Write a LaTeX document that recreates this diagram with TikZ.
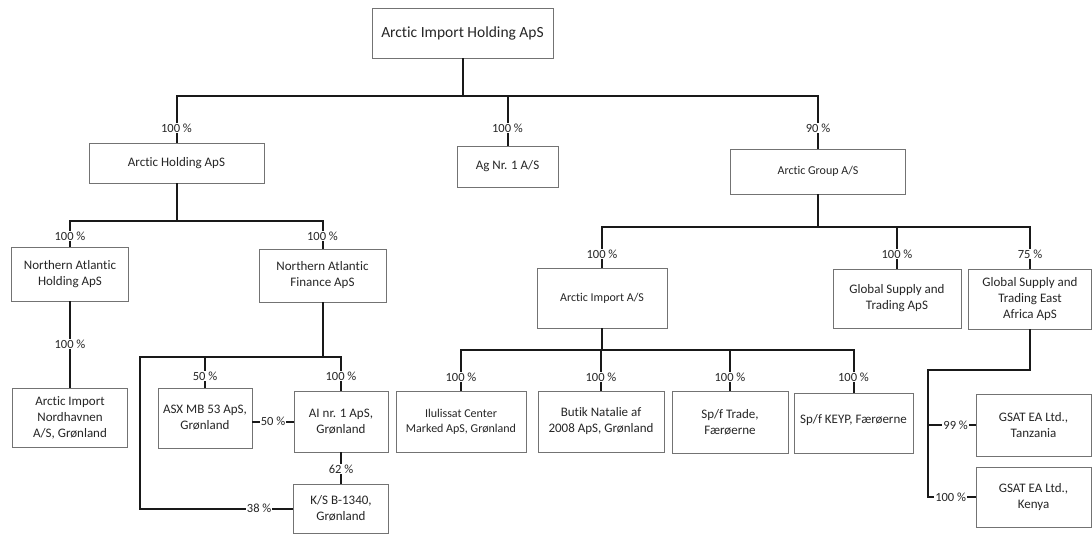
\documentclass[tikz,border=0pt]{standalone}
\usepackage{fontspec}
\setmainfont{Carlito}[Ligatures=NoCommon]
\begin{document}
\begin{tikzpicture}[x=1pt,y=-1pt,
  box/.style={draw=black!55, line width=0.7pt, inner sep=2pt, align=center, text=black!85, font=\fontsize{13}{16}\selectfont},
  smallbox/.style={box, font=\fontsize{12}{15}\selectfont},
  conn/.style={line width=2pt, draw=black!90},
  pct/.style={fill=white, inner sep=1pt, text=black!85, font=\fontsize{12.5}{14}\selectfont}]
\fill[white] (0,0) rectangle (1092,537);
\useasboundingbox (0,0) rectangle (1092,537);
% boxes
\node[box,font=\fontsize{15.5}{18}\selectfont,minimum width=181pt,minimum height=50pt] (top) at (462.5,33) {Arctic Import Holding ApS};
\node[box,minimum width=175pt,minimum height=40pt] (ah) at (176.5,163) {Arctic Holding ApS};
\node[box,minimum width=101pt,minimum height=41pt] (ag) at (507.5,166.5) {Ag Nr. 1 A/S};
\node[smallbox,minimum width=175pt,minimum height=45pt] (grp) at (818,171.5) {Arctic Group A/S};
\node[box,minimum width=117pt,minimum height=54pt] (nah) at (70,274) {Northern Atlantic\\Holding ApS};
\node[box,minimum width=127pt,minimum height=53pt] (naf) at (322.5,275.5) {Northern Atlantic\\Finance ApS};
\node[box,minimum width=115pt,minimum height=59pt] (ain) at (70,417.5) {Arctic Import\\Nordhavnen\\A/S, Grønland};
\node[box,minimum width=94pt,minimum height=60pt] (asx) at (205,418) {ASX MB 53 ApS,\\Grønland};
\node[box,minimum width=94pt,minimum height=61pt] (ai1) at (341,421.5) {AI nr. 1 ApS,\\Grønland};
\node[box,minimum width=95pt,minimum height=49pt] (ks) at (341,508.5) {K/S B-1340,\\Grønland};
\node[smallbox,minimum width=130pt,minimum height=60pt] (aimp) at (602,298) {Arctic Import A/S};
\node[smallbox,minimum width=130pt,minimum height=61pt] (ilu) at (461,421.5) {Ilulissat Center\\Marked ApS, Grønland};
\node[box,minimum width=126pt,minimum height=61pt] (but) at (601,421.5) {Butik Natalie af\\2008 ApS, Grønland};
\node[box,minimum width=116pt,minimum height=62pt] (trade) at (730,422) {Sp/f Trade,\\Færøerne};
\node[box,minimum width=119pt,minimum height=60pt] (keyp) at (853.5,423) {\raisebox{8pt}{Sp/f KEYP, Færøerne}};
\node[box,minimum width=128pt,minimum height=59pt] (gst) at (897,298.5) {Global Supply and\\Trading ApS};
\node[box,minimum width=123pt,minimum height=60pt] (gstea) at (1030,299) {Global Supply and\\Trading East\\Africa ApS};
\node[box,minimum width=115pt,minimum height=62pt] (tz) at (1033.5,425) {GSAT EA Ltd.,\\Tanzania};
\node[box,minimum width=115pt,minimum height=60pt] (ke) at (1033.5,497) {GSAT EA Ltd.,\\Kenya};
% level 1
\coordinate (b1) at (0,96);
\draw[conn] (top.south) -- (top.south |- b1);
\draw[conn] (ah.north) -- (ah.north |- b1) -| (grp.north);
\draw[conn] (ag.north) -- (ag.north |- b1);
\node[pct] (p1) at (ah.north |- 0,128) {100 \%};
\node[pct] (p2) at (ag.north |- 0,128) {100 \%};
\node[pct] (p3) at (grp.north |- 0,128) {90 \%};
% left subtree
\coordinate (b2) at (0,221);
\draw[conn] (ah.south) -- (ah.south |- b2);
\draw[conn] (nah.north) -- (nah.north |- b2) -| (naf.north);
\node[pct] (p4) at (nah.north |- 0,236) {100 \%};
\node[pct] (p5) at (naf.north |- 0,236) {100 \%};
\draw[conn] (nah.south) -- (ain.north);
\node[pct] (p6) at (nah.south |- 0,344) {100 \%};
\coordinate (b3) at (140,357);
\draw[conn] (naf.south) -- (naf.south |- b3);
\draw[conn] (ai1.north) -- (ai1.north |- b3) -- (b3) -- (b3 |- ks.west) -- (ks.west);
\draw[conn] (asx.north) -- (asx.north |- b3);
\node[pct] (p7) at (asx.north |- 0,376) {50 \%};
\node[pct] (p8) at (ai1.north |- 0,376) {100 \%};
\path (ks.west) ++(-34,0) node[pct] (p9) {38 \%};
\draw[conn] (asx.east |- ai1.west) -- node[pct] (p10) {50 \%} (ai1.west);
\draw[conn] (ai1.south) -- (ks.north);
\node[pct] (p11) at (ai1.south |- 0,469) {62 \%};
% right subtree
\coordinate (b4) at (0,227);
\draw[conn] (grp.south) -- (grp.south |- b4);
\draw[conn] (aimp.north) -- (aimp.north |- b4) -| (gstea.north);
\draw[conn] (gst.north) -- (gst.north |- b4);
\node[pct] (p12) at (aimp.north |- 0,254) {100 \%};
\node[pct] (p13) at (gst.north |- 0,254) {100 \%};
\node[pct] (p14) at (gstea.north |- 0,254) {75 \%};
\coordinate (b5) at (0,350);
\draw[conn] (aimp.south) -- (aimp.south |- b5);
\draw[conn] (ilu.north) -- (ilu.north |- b5) -| (keyp.north);
\draw[conn] (but.north) -- (but.north |- b5);
\draw[conn] (trade.north) -- (trade.north |- b5);
\node[pct] (p15) at (ilu.north |- 0,377) {100 \%};
\node[pct] (p16) at (but.north |- 0,377) {100 \%};
\node[pct] (p17) at (trade.north |- 0,377) {100 \%};
\node[pct] (p18) at (keyp.north |- 0,377) {100 \%};
\coordinate (b6) at (928,370);
\draw[conn] (gstea.south) -- (gstea.south |- b6) -- (b6) -- (b6 |- ke.west) -- (ke.west);
\draw[conn] (b6 |- tz.west) -- (tz.west);
\path (tz.west) ++(-20,0) node[pct] (p19) {99 \%};
\path (ke.west) ++(-25,0) node[pct] (p20) {100 \%};
\end{tikzpicture}
\end{document}
